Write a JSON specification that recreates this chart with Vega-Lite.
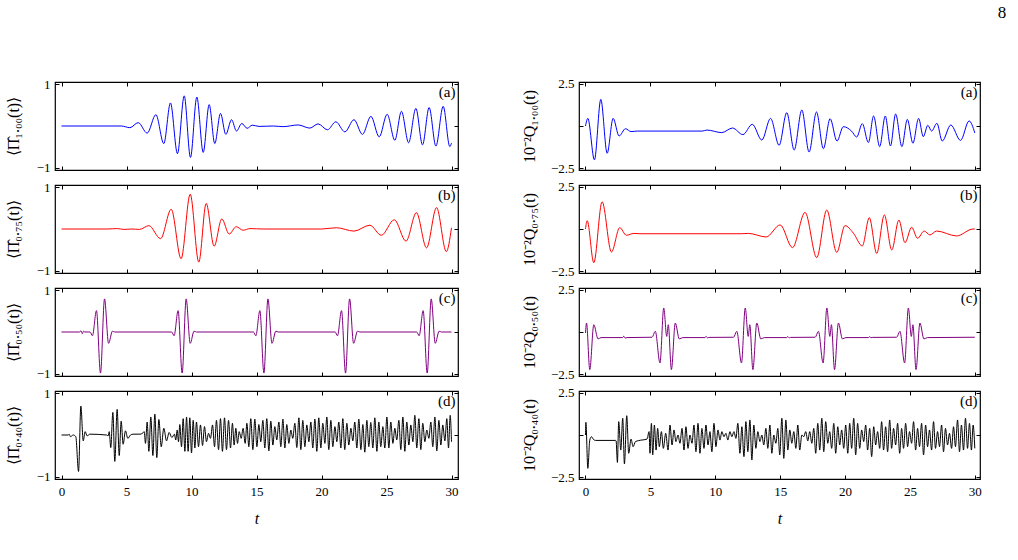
{
  "$schema": "https://vega.github.io/schema/vega-lite/v6.json",
  "background": "white",
  "padding": {"left": 4, "top": 3, "right": 5, "bottom": 5},
  "config": {
    "font": "Liberation Serif",
    "view": {"stroke": "black", "strokeWidth": 1.2},
    "axis": {"domain": false, "grid": false, "tickColor": "black", "tickWidth": 1, "tickSize": -4, "labelFont": "Liberation Serif", "labelFontSize": 13, "labelColor": "black", "titleFont": "Liberation Serif", "titleFontSize": 16, "titleFontWeight": "normal", "titleColor": "black"},
    "axisX": {"labelPadding": 10, "titlePadding": 12},
    "axisY": {"labelPadding": 9, "titlePadding": 15}
  },
  "datasets": {
    "la": [{"t":0,"v":0},{"t":4.6,"v":0},{"t":5.26,"v":-0.04},{"t":5.9,"v":0.08},{"t":6.59,"v":-0.17},{"t":7.26,"v":0.27},{"t":7.87,"v":-0.42},{"t":8.38,"v":0.55},{"t":8.92,"v":-0.66},{"t":9.44,"v":0.72},{"t":9.92,"v":-0.75},{"t":10.41,"v":0.69},{"t":10.9,"v":-0.63},{"t":11.36,"v":0.51},{"t":11.79,"v":-0.42},{"t":12.23,"v":0.3},{"t":12.64,"v":-0.2},{"t":13.08,"v":0.15},{"t":13.46,"v":-0.12},{"t":13.87,"v":0.06},{"t":14.28,"v":-0.055},{"t":14.67,"v":0.02},{"t":15.2,"v":-0.01},{"t":16.3,"v":0},{"t":17.05,"v":-0.015},{"t":18.2,"v":0.025},{"t":19.1,"v":-0.05},{"t":19.74,"v":0.05},{"t":20.46,"v":-0.09},{"t":21.1,"v":0.1},{"t":21.8,"v":-0.14},{"t":22.5,"v":0.15},{"t":23.15,"v":-0.2},{"t":23.8,"v":0.23},{"t":24.44,"v":-0.26},{"t":25.05,"v":0.28},{"t":25.64,"v":-0.34},{"t":26.15,"v":0.35},{"t":26.7,"v":-0.4},{"t":27.26,"v":0.42},{"t":27.77,"v":-0.45},{"t":28.28,"v":0.44},{"t":28.8,"v":-0.48},{"t":29.36,"v":0.47},{"t":29.87,"v":-0.49},{"t":30,"v":-0.41}],
    "lb": [{"t":0,"v":0},{"t":3.5,"v":0},{"t":4.3,"v":0.01},{"t":4.8,"v":-0.01},{"t":5.4,"v":0},{"t":6.0,"v":-0.01},{"t":6.72,"v":0.08},{"t":7.62,"v":-0.23},{"t":8.44,"v":0.47},{"t":9.2,"v":-0.71},{"t":9.9,"v":0.83},{"t":10.56,"v":-0.79},{"t":11.13,"v":0.61},{"t":11.74,"v":-0.41},{"t":12.33,"v":0.24},{"t":12.9,"v":-0.12},{"t":13.44,"v":0.055},{"t":13.97,"v":-0.03},{"t":14.5,"v":0.01},{"t":15.5,"v":0},{"t":20.0,"v":0},{"t":21.15,"v":0.03},{"t":22.5,"v":-0.05},{"t":23.72,"v":0.09},{"t":24.6,"v":-0.15},{"t":25.6,"v":0.22},{"t":26.5,"v":-0.29},{"t":27.3,"v":0.39},{"t":28.08,"v":-0.45},{"t":28.85,"v":0.51},{"t":29.6,"v":-0.54},{"t":30,"v":0.03}],
    "lc": [{"t":0,"v":0},{"t":1.4,"v":0},{"t":1.5,"v":0.03},{"t":1.6,"v":-0.04},{"t":1.7,"v":0.02},{"t":1.8,"v":0},{"t":2.2,"v":0},{"t":2.38,"v":-0.09},{"t":2.69,"v":0.51},{"t":3.0,"v":-0.98},{"t":3.31,"v":0.79},{"t":3.62,"v":-0.27},{"t":3.92,"v":0.02},{"t":4.1,"v":0},{"t":8.48,"v":0},{"t":8.66,"v":-0.09},{"t":8.97,"v":0.51},{"t":9.28,"v":-0.98},{"t":9.59,"v":0.79},{"t":9.9,"v":-0.27},{"t":10.2,"v":0.02},{"t":10.38,"v":0},{"t":14.77,"v":0},{"t":14.95,"v":-0.09},{"t":15.26,"v":0.51},{"t":15.57,"v":-0.98},{"t":15.88,"v":0.79},{"t":16.19,"v":-0.27},{"t":16.49,"v":0.02},{"t":16.67,"v":0},{"t":21.05,"v":0},{"t":21.23,"v":-0.09},{"t":21.54,"v":0.51},{"t":21.85,"v":-0.98},{"t":22.16,"v":0.79},{"t":22.47,"v":-0.27},{"t":22.77,"v":0.02},{"t":22.95,"v":0},{"t":27.33,"v":0},{"t":27.51,"v":-0.09},{"t":27.82,"v":0.51},{"t":28.13,"v":-0.98},{"t":28.44,"v":0.79},{"t":28.75,"v":-0.27},{"t":29.05,"v":0.02},{"t":29.23,"v":0},{"t":30,"v":0}],
    "ld": [{"t":0,"v":0},{"t":0.51,"v":0},{"t":0.59,"v":0.02},{"t":0.69,"v":-0.04},{"t":0.9,"v":0},{"t":1.1,"v":-0.04},{"t":1.31,"v":-0.87},{"t":1.49,"v":0.69},{"t":1.67,"v":-0.14},{"t":1.82,"v":0.08},{"t":1.97,"v":-0.02},{"t":2.18,"v":0.02},{"t":3.46,"v":0},{"t":3.59,"v":-0.02},{"t":3.67,"v":0.08},{"t":3.79,"v":-0.3},{"t":3.95,"v":0.54},{"t":4.1,"v":-0.63},{"t":4.28,"v":0.61},{"t":4.44,"v":-0.49},{"t":4.59,"v":0.33},{"t":4.74,"v":-0.22},{"t":4.92,"v":0.1},{"t":5.1,"v":-0.08},{"t":5.31,"v":0},{"t":5.51,"v":0.02},{"t":6.03,"v":0.02},{"t":6.23,"v":0.04},{"t":6.36,"v":0.08},{"t":6.46,"v":-0.2},{"t":6.59,"v":0.31},{"t":6.72,"v":-0.39},{"t":6.87,"v":0.43},{"t":7.03,"v":-0.49},{"t":7.18,"v":0.5},{"t":7.33,"v":-0.54},{"t":7.49,"v":0.37},{"t":7.67,"v":-0.28},{"t":7.87,"v":0.16},{"t":8.08,"v":-0.14},{"t":8.28,"v":0.06},{"t":8.49,"v":-0.06},{"t":8.69,"v":0.02},{"t":8.79,"v":-0.12},{"t":8.9,"v":0.12},{"t":9.0,"v":-0.16},{"t":9.1,"v":0.25},{"t":9.23,"v":-0.28},{"t":9.36,"v":0.39},{"t":9.49,"v":-0.39},{"t":9.62,"v":0.43},{"t":9.74,"v":-0.39},{"t":9.87,"v":0.41},{"t":10.0,"v":-0.43},{"t":10.13,"v":0.35},{"t":10.26,"v":-0.31},{"t":10.38,"v":0.31},{"t":10.54,"v":-0.28},{"t":10.69,"v":0.24},{"t":10.85,"v":-0.25},{"t":11.0,"v":0.2},{"t":11.15,"v":-0.16},{"t":11.31,"v":0.04},{"t":11.46,"v":-0.08},{"t":11.62,"v":0.24},{"t":11.77,"v":-0.28},{"t":11.92,"v":0.35},{"t":12.08,"v":-0.35},{"t":12.23,"v":0.39},{"t":12.38,"v":-0.39},{"t":12.54,"v":0.41},{"t":12.69,"v":-0.35},{"t":12.85,"v":0.35},{"t":13.0,"v":-0.31},{"t":13.15,"v":0.28},{"t":13.28,"v":-0.24},{"t":13.41,"v":0.16},{"t":13.54,"v":-0.2},{"t":13.67,"v":0.08},{"t":13.82,"v":-0.08},{"t":13.97,"v":0.16},{"t":14.13,"v":-0.2},{"t":14.26,"v":0.28},{"t":14.41,"v":-0.28},{"t":14.56,"v":0.39},{"t":14.72,"v":-0.35},{"t":14.87,"v":0.38},{"t":15.03,"v":-0.28},{"t":15.18,"v":0.25},{"t":15.33,"v":-0.16},{"t":15.49,"v":0.35},{"t":15.64,"v":-0.31},{"t":15.79,"v":0.39},{"t":15.95,"v":-0.38},{"t":16.1,"v":0.33},{"t":16.26,"v":-0.24},{"t":16.41,"v":0.2},{"t":16.56,"v":-0.12},{"t":16.72,"v":0.31},{"t":16.87,"v":-0.28},{"t":17.03,"v":0.38},{"t":17.18,"v":-0.31},{"t":17.33,"v":0.25},{"t":17.49,"v":-0.2},{"t":17.64,"v":0.12},{"t":17.79,"v":-0.08},{"t":17.95,"v":0.28},{"t":18.1,"v":-0.3},{"t":18.26,"v":0.41},{"t":18.41,"v":-0.35},{"t":18.56,"v":0.35},{"t":18.72,"v":-0.28},{"t":18.87,"v":0.24},{"t":19.03,"v":-0.16},{"t":19.18,"v":0.31},{"t":19.33,"v":-0.31},{"t":19.49,"v":0.38},{"t":19.64,"v":-0.39},{"t":19.79,"v":0.41},{"t":19.95,"v":-0.31},{"t":20.1,"v":0.28},{"t":20.26,"v":-0.2},{"t":20.41,"v":0.43},{"t":20.56,"v":-0.35},{"t":20.72,"v":0.35},{"t":20.87,"v":-0.28},{"t":21.03,"v":0.2},{"t":21.18,"v":-0.16},{"t":21.33,"v":0.31},{"t":21.49,"v":-0.31},{"t":21.64,"v":0.39},{"t":21.79,"v":-0.35},{"t":21.95,"v":0.28},{"t":22.1,"v":-0.24},{"t":22.26,"v":0.16},{"t":22.41,"v":-0.14},{"t":22.56,"v":0.31},{"t":22.72,"v":-0.31},{"t":22.87,"v":0.38},{"t":23.03,"v":-0.35},{"t":23.18,"v":0.25},{"t":23.33,"v":-0.41},{"t":23.49,"v":0.35},{"t":23.64,"v":-0.28},{"t":23.79,"v":0.3},{"t":23.95,"v":-0.31},{"t":24.1,"v":0.41},{"t":24.26,"v":-0.39},{"t":24.41,"v":0.31},{"t":24.56,"v":-0.28},{"t":24.72,"v":0.2},{"t":24.87,"v":-0.31},{"t":25.03,"v":0.43},{"t":25.18,"v":-0.31},{"t":25.33,"v":0.31},{"t":25.49,"v":-0.2},{"t":25.64,"v":0.16},{"t":25.79,"v":-0.12},{"t":25.95,"v":0.35},{"t":26.1,"v":-0.35},{"t":26.26,"v":0.43},{"t":26.41,"v":-0.39},{"t":26.56,"v":0.31},{"t":26.72,"v":-0.24},{"t":26.87,"v":0.24},{"t":27.03,"v":-0.16},{"t":27.18,"v":0.47},{"t":27.33,"v":-0.31},{"t":27.49,"v":0.39},{"t":27.64,"v":-0.35},{"t":27.79,"v":0.28},{"t":27.95,"v":-0.16},{"t":28.1,"v":0.12},{"t":28.26,"v":-0.08},{"t":28.41,"v":0.31},{"t":28.56,"v":-0.28},{"t":28.72,"v":0.43},{"t":28.87,"v":-0.38},{"t":29.03,"v":0.35},{"t":29.18,"v":-0.24},{"t":29.33,"v":0.24},{"t":29.49,"v":-0.14},{"t":29.64,"v":0.39},{"t":29.77,"v":-0.31},{"t":29.9,"v":0.47},{"t":30.0,"v":-0.16}],
    "ra": [{"t":0,"v":0},{"t":0.18,"v":0.45},{"t":0.69,"v":-2.0},{"t":1.18,"v":1.57},{"t":1.67,"v":-1.61},{"t":2.13,"v":0.45},{"t":2.59,"v":-0.59},{"t":3.08,"v":-0.16},{"t":3.51,"v":-0.33},{"t":4.0,"v":-0.3},{"t":9.0,"v":-0.3},{"t":9.36,"v":-0.24},{"t":10.5,"v":-0.39},{"t":11.33,"v":-0.12},{"t":12.13,"v":-0.51},{"t":12.85,"v":0.1},{"t":13.59,"v":-0.83},{"t":14.26,"v":0.45},{"t":14.92,"v":-1.14},{"t":15.51,"v":0.79},{"t":16.08,"v":-1.42},{"t":16.67,"v":0.95},{"t":17.23,"v":-1.54},{"t":17.8,"v":0.83},{"t":18.33,"v":-1.34},{"t":18.85,"v":0.43},{"t":19.38,"v":-0.89},{"t":19.87,"v":-0.04},{"t":20.5,"v":-0.3},{"t":20.9,"v":-0.65},{"t":21.33,"v":0.14},{"t":21.8,"v":-0.98},{"t":22.2,"v":0.59},{"t":22.67,"v":-1.22},{"t":23.1,"v":0.59},{"t":23.5,"v":-1.18},{"t":23.9,"v":0.71},{"t":24.38,"v":-1.22},{"t":24.8,"v":0.39},{"t":25.23,"v":-1.02},{"t":25.67,"v":0.45},{"t":26.03,"v":-0.63},{"t":26.38,"v":0.04},{"t":26.67,"v":-0.3},{"t":27.08,"v":0.16},{"t":27.49,"v":-0.89},{"t":28.15,"v":0.06},{"t":28.9,"v":-0.85},{"t":29.56,"v":0.3},{"t":30,"v":-0.41}],
    "rb": [{"t":0,"v":0},{"t":0.13,"v":0.49},{"t":0.64,"v":-1.99},{"t":1.28,"v":1.61},{"t":2.0,"v":-1.36},{"t":2.64,"v":0.08},{"t":3.15,"v":-0.37},{"t":3.72,"v":-0.26},{"t":4.2,"v":-0.28},{"t":12.0,"v":-0.28},{"t":12.56,"v":-0.26},{"t":13.92,"v":-0.47},{"t":15.0,"v":0.24},{"t":15.95,"v":-1.1},{"t":16.92,"v":0.98},{"t":17.82,"v":-1.69},{"t":18.59,"v":1.12},{"t":19.36,"v":-1.38},{"t":20.0,"v":0.2},{"t":20.64,"v":-0.24},{"t":21.33,"v":-1.0},{"t":21.87,"v":0.67},{"t":22.44,"v":-1.44},{"t":23.03,"v":0.83},{"t":23.6,"v":-1.24},{"t":24.15,"v":0.53},{"t":24.62,"v":-0.81},{"t":25.13,"v":0.1},{"t":25.59,"v":-0.55},{"t":26.1,"v":-0.12},{"t":26.54,"v":-0.35},{"t":27.05,"v":-0.12},{"t":28.6,"v":-0.41},{"t":29.87,"v":0},{"t":30,"v":0}],
    "rc": [{"t":0,"v":-0.06},{"t":0.08,"v":0.53},{"t":0.33,"v":-2.22},{"t":0.64,"v":0.43},{"t":0.97,"v":-0.41},{"t":1.2,"v":-0.33},{"t":2.85,"v":-0.33},{"t":2.95,"v":-0.25},{"t":3.05,"v":-0.36},{"t":3.2,"v":-0.33},{"t":5.13,"v":-0.31},{"t":5.38,"v":0.04},{"t":5.74,"v":-1.83},{"t":6.03,"v":1.42},{"t":6.26,"v":-0.26},{"t":6.38,"v":0.43},{"t":6.62,"v":-2.22},{"t":6.92,"v":0.53},{"t":7.23,"v":-0.41},{"t":7.5,"v":-0.33},{"t":9.2,"v":-0.33},{"t":9.3,"v":-0.26},{"t":9.4,"v":-0.35},{"t":9.5,"v":-0.32},{"t":11.41,"v":-0.31},{"t":11.66,"v":0.04},{"t":12.02,"v":-1.83},{"t":12.31,"v":1.42},{"t":12.54,"v":-0.26},{"t":12.66,"v":0.43},{"t":12.9,"v":-2.22},{"t":13.2,"v":0.53},{"t":13.51,"v":-0.41},{"t":13.78,"v":-0.33},{"t":15.5,"v":-0.33},{"t":15.6,"v":-0.27},{"t":15.7,"v":-0.35},{"t":15.8,"v":-0.32},{"t":17.7,"v":-0.31},{"t":17.95,"v":0.04},{"t":18.31,"v":-1.83},{"t":18.6,"v":1.42},{"t":18.83,"v":-0.26},{"t":18.95,"v":0.43},{"t":19.19,"v":-2.22},{"t":19.49,"v":0.53},{"t":19.8,"v":-0.41},{"t":20.07,"v":-0.33},{"t":21.8,"v":-0.33},{"t":21.9,"v":-0.28},{"t":22.0,"v":-0.34},{"t":22.1,"v":-0.32},{"t":23.98,"v":-0.31},{"t":24.23,"v":0.04},{"t":24.59,"v":-1.83},{"t":24.88,"v":1.42},{"t":25.11,"v":-0.26},{"t":25.23,"v":0.43},{"t":25.47,"v":-2.22},{"t":25.77,"v":0.53},{"t":26.08,"v":-0.41},{"t":26.35,"v":-0.33},{"t":30,"v":-0.31}],
    "rd": [{"t":0,"v":0},{"t":0.03,"v":0.75},{"t":0.18,"v":-1.97},{"t":0.33,"v":-0.3},{"t":0.46,"v":-0.1},{"t":0.59,"v":-0.24},{"t":0.77,"v":-0.32},{"t":2.31,"v":-0.32},{"t":2.36,"v":-0.35},{"t":2.46,"v":-1.62},{"t":2.56,"v":0.79},{"t":2.72,"v":-0.89},{"t":2.87,"v":0.99},{"t":3.0,"v":-1.71},{"t":3.18,"v":1.14},{"t":3.33,"v":-1.08},{"t":3.51,"v":-0.24},{"t":3.67,"v":-0.69},{"t":3.85,"v":-0.39},{"t":4.1,"v":-0.33},{"t":4.74,"v":-0.24},{"t":4.9,"v":0.2},{"t":4.97,"v":-1.08},{"t":5.08,"v":0.69},{"t":5.18,"v":-1.18},{"t":5.31,"v":0.59},{"t":5.44,"v":-0.89},{"t":5.56,"v":0.39},{"t":5.69,"v":-0.69},{"t":5.85,"v":0.2},{"t":6.0,"v":-0.79},{"t":6.18,"v":0.1},{"t":6.36,"v":-0.89},{"t":6.51,"v":0.59},{"t":6.67,"v":-0.59},{"t":6.82,"v":0.3},{"t":6.97,"v":-0.39},{"t":7.13,"v":0},{"t":7.28,"v":-0.49},{"t":7.44,"v":0.39},{"t":7.59,"v":-0.89},{"t":7.74,"v":0.49},{"t":7.9,"v":-0.79},{"t":8.05,"v":0},{"t":8.21,"v":-0.49},{"t":8.36,"v":0.59},{"t":8.51,"v":-0.99},{"t":8.67,"v":0.69},{"t":8.82,"v":-1.08},{"t":8.97,"v":0.39},{"t":9.13,"v":-0.79},{"t":9.28,"v":0.59},{"t":9.44,"v":-0.59},{"t":9.59,"v":0.2},{"t":9.74,"v":-0.99},{"t":9.9,"v":0.69},{"t":10.05,"v":-0.69},{"t":10.21,"v":0.3},{"t":10.36,"v":-0.3},{"t":10.51,"v":0.2},{"t":10.67,"v":-0.1},{"t":10.82,"v":0.1},{"t":10.97,"v":-0.3},{"t":11.13,"v":0.2},{"t":11.28,"v":-0.1},{"t":11.44,"v":0.2},{"t":11.59,"v":-0.2},{"t":11.74,"v":0.69},{"t":11.9,"v":-1.08},{"t":12.05,"v":0.49},{"t":12.21,"v":-1.28},{"t":12.36,"v":0.79},{"t":12.51,"v":-0.99},{"t":12.67,"v":0.89},{"t":12.82,"v":-1.48},{"t":12.97,"v":0.59},{"t":13.13,"v":-0.79},{"t":13.28,"v":0.2},{"t":13.44,"v":-0.39},{"t":13.59,"v":0},{"t":13.74,"v":-0.59},{"t":13.9,"v":0.39},{"t":14.05,"v":-0.79},{"t":14.21,"v":0.59},{"t":14.36,"v":-1.08},{"t":14.51,"v":0},{"t":14.67,"v":-0.49},{"t":14.82,"v":0.39},{"t":14.97,"v":-1.18},{"t":15.13,"v":0.99},{"t":15.28,"v":-1.38},{"t":15.44,"v":0.89},{"t":15.59,"v":-0.89},{"t":15.74,"v":0.3},{"t":15.9,"v":-0.49},{"t":16.05,"v":0.2},{"t":16.21,"v":-0.79},{"t":16.36,"v":0.59},{"t":16.51,"v":-0.89},{"t":16.67,"v":0},{"t":16.82,"v":-0.1},{"t":16.97,"v":0.2},{"t":17.13,"v":-0.35},{"t":17.28,"v":0.2},{"t":17.44,"v":-0.49},{"t":17.59,"v":0.39},{"t":17.74,"v":-1.08},{"t":17.9,"v":0.69},{"t":18.05,"v":-0.89},{"t":18.21,"v":0.99},{"t":18.36,"v":-0.99},{"t":18.51,"v":0.79},{"t":18.67,"v":-0.49},{"t":18.82,"v":0.2},{"t":18.97,"v":-0.79},{"t":19.13,"v":0.69},{"t":19.28,"v":-1.08},{"t":19.44,"v":0.49},{"t":19.59,"v":-0.59},{"t":19.74,"v":0.3},{"t":19.9,"v":-0.79},{"t":20.05,"v":0.59},{"t":20.21,"v":-1.08},{"t":20.36,"v":0.69},{"t":20.51,"v":-0.79},{"t":20.67,"v":0.99},{"t":20.82,"v":-1.18},{"t":20.97,"v":0.69},{"t":21.13,"v":-0.79},{"t":21.28,"v":0.3},{"t":21.44,"v":-0.39},{"t":21.59,"v":0.59},{"t":21.74,"v":-0.89},{"t":21.9,"v":0.39},{"t":22.05,"v":-1.28},{"t":22.21,"v":0.49},{"t":22.36,"v":-0.59},{"t":22.51,"v":0.2},{"t":22.67,"v":-0.79},{"t":22.82,"v":0.79},{"t":22.97,"v":-0.89},{"t":23.13,"v":0.49},{"t":23.28,"v":-0.99},{"t":23.44,"v":0.89},{"t":23.59,"v":-0.79},{"t":23.74,"v":0.39},{"t":23.9,"v":-0.59},{"t":24.05,"v":0.69},{"t":24.21,"v":-1.08},{"t":24.36,"v":0.39},{"t":24.51,"v":-0.79},{"t":24.67,"v":0.69},{"t":24.82,"v":-0.69},{"t":24.97,"v":0.2},{"t":25.13,"v":-0.49},{"t":25.28,"v":0.79},{"t":25.44,"v":-0.89},{"t":25.59,"v":0.39},{"t":25.74,"v":-0.69},{"t":25.9,"v":0.69},{"t":26.05,"v":-1.18},{"t":26.21,"v":0.59},{"t":26.36,"v":-0.69},{"t":26.51,"v":0.3},{"t":26.67,"v":-0.89},{"t":26.82,"v":0.79},{"t":26.97,"v":-0.79},{"t":27.13,"v":0.2},{"t":27.28,"v":-0.69},{"t":27.44,"v":0.59},{"t":27.59,"v":-0.99},{"t":27.74,"v":0.39},{"t":27.9,"v":-0.59},{"t":28.05,"v":0.1},{"t":28.21,"v":-0.79},{"t":28.36,"v":0.49},{"t":28.51,"v":-0.69},{"t":28.67,"v":0.89},{"t":28.82,"v":-0.99},{"t":28.97,"v":0.59},{"t":29.13,"v":-0.89},{"t":29.28,"v":0.99},{"t":29.44,"v":-0.79},{"t":29.59,"v":0.69},{"t":29.74,"v":-0.89},{"t":29.87,"v":0.59},{"t":30.0,"v":-0.79}]
  },
  "spacing": 60,
  "hconcat": [
    {
      "bounds": "flush",
      "spacing": 15,
      "vconcat": [
        {
          "width": 403, "height": 88, "data": {"name": "la"},
          "layer": [
            {"mark": {"type": "line", "color": "#0000ff", "strokeWidth": 1, "interpolate": "monotone"},
             "encoding": {
               "x": {"field": "t", "type": "quantitative", "scale": {"domain": [-0.5, 30.5], "nice": false, "zero": false}, "axis": {"orient": "bottom", "values": [0,5,10,15,20,25,30], "labels": false, "title": null}},
               "y": {"field": "v", "type": "quantitative", "scale": {"domain": [-1.05, 1.05], "nice": false, "zero": false}, "axis": {"orient": "left", "values": [-1,0,1], "format": "d", "labelExpr": "datum.value == 0 ? '' : datum.label", "title": "⟨Π̂₁.₀₀(t)⟩"}}}},
            {"mark": {"type": "line", "strokeOpacity": 0},
             "encoding": {
               "x": {"field": "t", "type": "quantitative", "axis": {"orient": "top", "values": [0,5,10,15,20,25,30], "labels": false, "title": null}},
               "y": {"field": "v", "type": "quantitative", "axis": {"orient": "right", "values": [-1,0,1], "labels": false, "title": null}}}},
            {"data": {"values": [{}]},
             "mark": {"type": "text", "align": "right", "baseline": "top", "fontSize": 15, "font": "Liberation Serif", "color": "black"},
             "encoding": {"x": {"datum": 30.3, "axis": null}, "y": {"datum": 0.97, "axis": null}, "text": {"value": "(a)"}}}
          ],
          "resolve": {"axis": {"x": "independent", "y": "independent"}}
        },
        {
          "width": 403, "height": 88, "data": {"name": "lb"},
          "layer": [
            {"mark": {"type": "line", "color": "#ff0000", "strokeWidth": 1, "interpolate": "monotone"},
             "encoding": {
               "x": {"field": "t", "type": "quantitative", "scale": {"domain": [-0.5, 30.5], "nice": false, "zero": false}, "axis": {"orient": "bottom", "values": [0,5,10,15,20,25,30], "labels": false, "title": null}},
               "y": {"field": "v", "type": "quantitative", "scale": {"domain": [-1.05, 1.05], "nice": false, "zero": false}, "axis": {"orient": "left", "values": [-1,0,1], "format": "d", "labelExpr": "datum.value == 0 ? '' : datum.label", "title": "⟨Π̂₀.₇₅(t)⟩"}}}},
            {"mark": {"type": "line", "strokeOpacity": 0},
             "encoding": {
               "x": {"field": "t", "type": "quantitative", "axis": {"orient": "top", "values": [0,5,10,15,20,25,30], "labels": false, "title": null}},
               "y": {"field": "v", "type": "quantitative", "axis": {"orient": "right", "values": [-1,0,1], "labels": false, "title": null}}}},
            {"data": {"values": [{}]},
             "mark": {"type": "text", "align": "right", "baseline": "top", "fontSize": 15, "font": "Liberation Serif", "color": "black"},
             "encoding": {"x": {"datum": 30.3, "axis": null}, "y": {"datum": 0.97, "axis": null}, "text": {"value": "(b)"}}}
          ],
          "resolve": {"axis": {"x": "independent", "y": "independent"}}
        },
        {
          "width": 403, "height": 88, "data": {"name": "lc"},
          "layer": [
            {"mark": {"type": "line", "color": "#800080", "strokeWidth": 1, "interpolate": "monotone"},
             "encoding": {
               "x": {"field": "t", "type": "quantitative", "scale": {"domain": [-0.5, 30.5], "nice": false, "zero": false}, "axis": {"orient": "bottom", "values": [0,5,10,15,20,25,30], "labels": false, "title": null}},
               "y": {"field": "v", "type": "quantitative", "scale": {"domain": [-1.05, 1.05], "nice": false, "zero": false}, "axis": {"orient": "left", "values": [-1,0,1], "format": "d", "labelExpr": "datum.value == 0 ? '' : datum.label", "title": "⟨Π̂₀.₅₀(t)⟩"}}}},
            {"mark": {"type": "line", "strokeOpacity": 0},
             "encoding": {
               "x": {"field": "t", "type": "quantitative", "axis": {"orient": "top", "values": [0,5,10,15,20,25,30], "labels": false, "title": null}},
               "y": {"field": "v", "type": "quantitative", "axis": {"orient": "right", "values": [-1,0,1], "labels": false, "title": null}}}},
            {"data": {"values": [{}]},
             "mark": {"type": "text", "align": "right", "baseline": "top", "fontSize": 15, "font": "Liberation Serif", "color": "black"},
             "encoding": {"x": {"datum": 30.3, "axis": null}, "y": {"datum": 0.97, "axis": null}, "text": {"value": "(c)"}}}
          ],
          "resolve": {"axis": {"x": "independent", "y": "independent"}}
        },
        {
          "width": 403, "height": 88, "data": {"name": "ld"},
          "layer": [
            {"mark": {"type": "line", "color": "#000000", "strokeWidth": 1, "interpolate": "monotone"},
             "encoding": {
               "x": {"field": "t", "type": "quantitative", "scale": {"domain": [-0.5, 30.5], "nice": false, "zero": false}, "axis": {"orient": "bottom", "values": [0,5,10,15,20,25,30], "title": "t", "titleFontStyle": "italic"}},
               "y": {"field": "v", "type": "quantitative", "scale": {"domain": [-1.05, 1.05], "nice": false, "zero": false}, "axis": {"orient": "left", "values": [-1,0,1], "format": "d", "labelExpr": "datum.value == 0 ? '' : datum.label", "title": "⟨Π̂₀.₄₀(t)⟩"}}}},
            {"mark": {"type": "line", "strokeOpacity": 0},
             "encoding": {
               "x": {"field": "t", "type": "quantitative", "axis": {"orient": "top", "values": [0,5,10,15,20,25,30], "labels": false, "title": null}},
               "y": {"field": "v", "type": "quantitative", "axis": {"orient": "right", "values": [-1,0,1], "labels": false, "title": null}}}},
            {"data": {"values": [{}]},
             "mark": {"type": "text", "align": "right", "baseline": "top", "fontSize": 15, "font": "Liberation Serif", "color": "black"},
             "encoding": {"x": {"datum": 30.3, "axis": null}, "y": {"datum": 0.97, "axis": null}, "text": {"value": "(d)"}}}
          ],
          "resolve": {"axis": {"x": "independent", "y": "independent"}}
        }
      ]
    },
    {
      "bounds": "flush",
      "spacing": 15,
      "vconcat": [
        {
          "width": 401, "height": 88, "data": {"name": "ra"},
          "layer": [
            {"mark": {"type": "line", "color": "#0000ff", "strokeWidth": 1, "interpolate": "monotone"},
             "encoding": {
               "x": {"field": "t", "type": "quantitative", "scale": {"domain": [-0.5, 30.4], "nice": false, "zero": false}, "axis": {"orient": "bottom", "values": [0,5,10,15,20,25,30], "labels": false, "title": null}},
               "y": {"field": "v", "type": "quantitative", "scale": {"domain": [-2.6, 2.6], "nice": false, "zero": false}, "axis": {"orient": "left", "values": [-2.5,0,2.5], "format": ".1f", "labelExpr": "datum.value == 0 ? '' : datum.label", "title": "10⁻²Q₁.₀₀(t)", "titlePadding": 13}}}},
            {"mark": {"type": "line", "strokeOpacity": 0},
             "encoding": {
               "x": {"field": "t", "type": "quantitative", "axis": {"orient": "top", "values": [0,5,10,15,20,25,30], "labels": false, "title": null}},
               "y": {"field": "v", "type": "quantitative", "axis": {"orient": "right", "values": [-2.5,0,2.5], "labels": false, "title": null}}}},
            {"data": {"values": [{}]},
             "mark": {"type": "text", "align": "right", "baseline": "top", "fontSize": 15, "font": "Liberation Serif", "color": "black"},
             "encoding": {"x": {"datum": 30.2, "axis": null}, "y": {"datum": 2.45, "axis": null}, "text": {"value": "(a)"}}},
            {"data": {"values": [{}]},
             "mark": {"type": "text", "align": "center", "baseline": "middle", "fontSize": 17, "font": "Liberation Serif", "color": "black"},
             "encoding": {"x": {"datum": 32.1, "axis": null}, "y": {"datum": 6.7, "axis": null}, "text": {"value": "8"}}}
          ],
          "resolve": {"axis": {"x": "independent", "y": "independent"}}
        },
        {
          "width": 401, "height": 88, "data": {"name": "rb"},
          "layer": [
            {"mark": {"type": "line", "color": "#ff0000", "strokeWidth": 1, "interpolate": "monotone"},
             "encoding": {
               "x": {"field": "t", "type": "quantitative", "scale": {"domain": [-0.5, 30.4], "nice": false, "zero": false}, "axis": {"orient": "bottom", "values": [0,5,10,15,20,25,30], "labels": false, "title": null}},
               "y": {"field": "v", "type": "quantitative", "scale": {"domain": [-2.6, 2.6], "nice": false, "zero": false}, "axis": {"orient": "left", "values": [-2.5,0,2.5], "format": ".1f", "labelExpr": "datum.value == 0 ? '' : datum.label", "title": "10⁻²Q₀.₇₅(t)", "titlePadding": 13}}}},
            {"mark": {"type": "line", "strokeOpacity": 0},
             "encoding": {
               "x": {"field": "t", "type": "quantitative", "axis": {"orient": "top", "values": [0,5,10,15,20,25,30], "labels": false, "title": null}},
               "y": {"field": "v", "type": "quantitative", "axis": {"orient": "right", "values": [-2.5,0,2.5], "labels": false, "title": null}}}},
            {"data": {"values": [{}]},
             "mark": {"type": "text", "align": "right", "baseline": "top", "fontSize": 15, "font": "Liberation Serif", "color": "black"},
             "encoding": {"x": {"datum": 30.2, "axis": null}, "y": {"datum": 2.45, "axis": null}, "text": {"value": "(b)"}}}
          ],
          "resolve": {"axis": {"x": "independent", "y": "independent"}}
        },
        {
          "width": 401, "height": 88, "data": {"name": "rc"},
          "layer": [
            {"mark": {"type": "line", "color": "#800080", "strokeWidth": 1, "interpolate": "monotone"},
             "encoding": {
               "x": {"field": "t", "type": "quantitative", "scale": {"domain": [-0.5, 30.4], "nice": false, "zero": false}, "axis": {"orient": "bottom", "values": [0,5,10,15,20,25,30], "labels": false, "title": null}},
               "y": {"field": "v", "type": "quantitative", "scale": {"domain": [-2.6, 2.6], "nice": false, "zero": false}, "axis": {"orient": "left", "values": [-2.5,0,2.5], "format": ".1f", "labelExpr": "datum.value == 0 ? '' : datum.label", "title": "10⁻²Q₀.₅₀(t)", "titlePadding": 13}}}},
            {"mark": {"type": "line", "strokeOpacity": 0},
             "encoding": {
               "x": {"field": "t", "type": "quantitative", "axis": {"orient": "top", "values": [0,5,10,15,20,25,30], "labels": false, "title": null}},
               "y": {"field": "v", "type": "quantitative", "axis": {"orient": "right", "values": [-2.5,0,2.5], "labels": false, "title": null}}}},
            {"data": {"values": [{}]},
             "mark": {"type": "text", "align": "right", "baseline": "top", "fontSize": 15, "font": "Liberation Serif", "color": "black"},
             "encoding": {"x": {"datum": 30.2, "axis": null}, "y": {"datum": 2.45, "axis": null}, "text": {"value": "(c)"}}}
          ],
          "resolve": {"axis": {"x": "independent", "y": "independent"}}
        },
        {
          "width": 401, "height": 88, "data": {"name": "rd"},
          "layer": [
            {"mark": {"type": "line", "color": "#000000", "strokeWidth": 1, "interpolate": "monotone"},
             "encoding": {
               "x": {"field": "t", "type": "quantitative", "scale": {"domain": [-0.5, 30.4], "nice": false, "zero": false}, "axis": {"orient": "bottom", "values": [0,5,10,15,20,25,30], "title": "t", "titleFontStyle": "italic"}},
               "y": {"field": "v", "type": "quantitative", "scale": {"domain": [-2.6, 2.6], "nice": false, "zero": false}, "axis": {"orient": "left", "values": [-2.5,0,2.5], "format": ".1f", "labelExpr": "datum.value == 0 ? '' : datum.label", "title": "10⁻²Q₀.₄₀(t)", "titlePadding": 13}}}},
            {"mark": {"type": "line", "strokeOpacity": 0},
             "encoding": {
               "x": {"field": "t", "type": "quantitative", "axis": {"orient": "top", "values": [0,5,10,15,20,25,30], "labels": false, "title": null}},
               "y": {"field": "v", "type": "quantitative", "axis": {"orient": "right", "values": [-2.5,0,2.5], "labels": false, "title": null}}}},
            {"data": {"values": [{}]},
             "mark": {"type": "text", "align": "right", "baseline": "top", "fontSize": 15, "font": "Liberation Serif", "color": "black"},
             "encoding": {"x": {"datum": 30.2, "axis": null}, "y": {"datum": 2.45, "axis": null}, "text": {"value": "(d)"}}}
          ],
          "resolve": {"axis": {"x": "independent", "y": "independent"}}
        }
      ]
    }
  ]
}
